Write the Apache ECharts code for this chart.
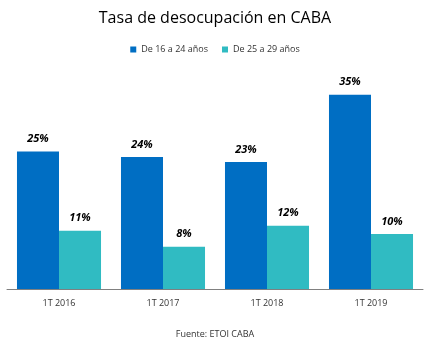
<!DOCTYPE html>
<html><head><meta charset="utf-8">
<script src="https://cdn.jsdelivr.net/npm/echarts@6/dist/echarts.min.js"></script>
<style>html,body{margin:0;padding:0;background:#fff}#c{width:430px;height:345px}</style>
</head><body><div id="c"></div>
<script>
var categories = ['1T 2016', '1T 2017', '1T 2018', '1T 2019'];
var seriesNames = ['De 16 a 24 años', 'De 25 a 29 años'];
var jovenes = [25.0, 24.0, 23.1, 35.3];
var adultos = [10.6, 7.7, 11.5, 10.0];
var FONT = '"Open Sans", "Liberation Sans", sans-serif';
var chart = echarts.init(document.getElementById('c'), null, {renderer: 'canvas'});
var labelCfg = {
  show: true, position: 'top', distance: 7,
  fontFamily: FONT, fontSize: 11, fontWeight: 'bold', fontStyle: 'italic', color: '#000',
  formatter: function (p) { return Math.round(p.value) + '%'; }
};
chart.setOption({
  animation: false,
  title: [{
    text: 'Tasa de desocupación en CABA', left: 'center', top: 5,
    textStyle: {fontFamily: FONT, fontSize: 16, fontWeight: 'normal', color: '#000'}
  }, {
    text: 'Fuente: ETOI CABA', left: 'center', top: 325,
    textStyle: {fontFamily: FONT, fontSize: 9, fontWeight: 'normal', color: '#333'}
  }],
  legend: {
    top: 40, left: 'center', itemWidth: 6, itemHeight: 6, itemGap: 14,
    icon: 'rect',
    textStyle: {fontFamily: FONT, fontSize: 9, color: '#333'},
    data: seriesNames
  },
  grid: {left: 7, right: 7, top: 69, bottom: 56},
  xAxis: {
    type: 'category', data: categories,
    axisLine: {lineStyle: {color: '#808080', width: 1}},
    axisTick: {show: false},
    axisLabel: {fontFamily: FONT, fontSize: 9, color: '#333', margin: 10}
  },
  yAxis: {type: 'value', min: 0, max: 40, show: false, splitLine: {show: false}},
  series: [{
    name: seriesNames[0], type: 'bar', data: jovenes, barGap: '0%', barCategoryGap: '19.2%',
    itemStyle: {color: '#006EC3'}, label: labelCfg
  }, {
    name: seriesNames[1], type: 'bar', data: adultos, barGap: '0%', barCategoryGap: '19.2%',
    itemStyle: {color: '#30BBC2'}, label: labelCfg
  }]
});
</script></body></html>
